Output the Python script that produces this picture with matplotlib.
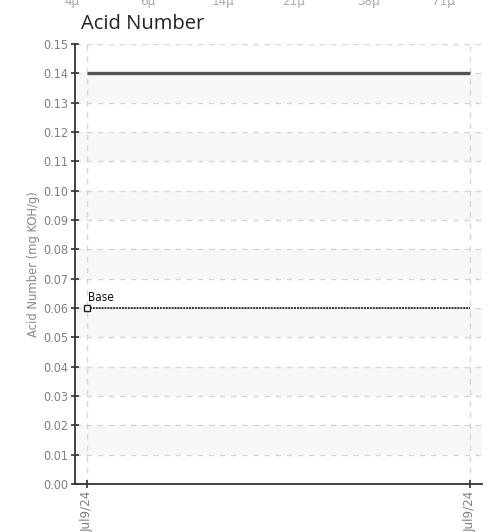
import matplotlib
matplotlib.use("Agg")
import matplotlib.pyplot as plt

# Data
dates = ["Jul9/24", "Jul9/24"]
acid_values = [0.14, 0.14]
base_values = [0.06, 0.06]
base_label = "Base"
y_ticks = [round(i * 0.01, 2) for i in range(16)]
top_labels = ["4\u03bc", "6\u03bc", "14\u03bc", "21\u03bc", "38\u03bc", "71\u03bc"]
top_label_x = [72, 148, 223, 294, 368, 443]

cond = dict(family="DejaVu Sans", stretch="condensed")

fig = plt.figure(figsize=(5.03, 5.32), dpi=100)
ax = fig.add_axes([75/503, 1-484/532, 407/503, 440/532])

x = list(range(len(dates)))
ax.set_xlim(-12/383, 1 + 12/383)
ax.set_ylim(0, 0.15)

# alternating bands
for i in range(1, 15, 2):
    ax.axhspan(y_ticks[i], y_ticks[i+1], color="#f7f7f7", zorder=0, lw=0)

for yv in y_ticks[1:]:
    ax.axhline(yv, color="#d8d8d8", lw=1, ls=(0, (4, 4)), zorder=1)
for xv in x:
    ax.axvline(xv, color="#d8d8d8", lw=1, ls=(0, (4, 4)), zorder=1)

ax.plot(x, acid_values, color="#555555", lw=2.4, zorder=3, solid_capstyle="butt")
ax.plot(x, base_values, color="#333333", lw=1.4, ls=(0, (1.0, 0.5)), zorder=3)
ax.plot([x[0]], [base_values[0]], marker="s", ms=4, mfc="white", mec="#222222", mew=1, zorder=4)
ax.annotate(base_label, (x[0], base_values[0]), xytext=(1, 3), textcoords="offset points",
            fontsize=8.5, color="#111111", va="bottom", ha="left", **cond)

for s in ["top", "right"]:
    ax.spines[s].set_visible(False)
for s in ["left", "bottom"]:
    ax.spines[s].set_color("#333333")
    ax.spines[s].set_linewidth(1.3)

ax.set_yticks(y_ticks)
ax.set_yticklabels([f"{v:.2f}" for v in y_ticks], fontsize=9, color="#808080", **cond)
ax.set_xticks(x)
ax.set_xticklabels(dates, rotation=90, fontsize=9.5, color="#808080", **cond)
ax.tick_params(axis="both", direction="inout", length=6, width=1.2, color="#333333", pad=2)
ax.set_ylabel("Acid Number (mg KOH/g)", fontsize=9.3, color="#888888", labelpad=2, **cond)

fig.text(81/503, 1-24/532, "Acid Number", fontsize=14.5, family=["Open Sans", "DejaVu Sans"],
         color="#222222", ha="left", va="center")

for lab, xp in zip(top_labels, top_label_x):
    fig.text(xp/503, 1-2/532, lab, fontsize=9.5, color="#aaaaaa", ha="center", va="center", **cond)

fig.savefig("out.png", dpi=100)
